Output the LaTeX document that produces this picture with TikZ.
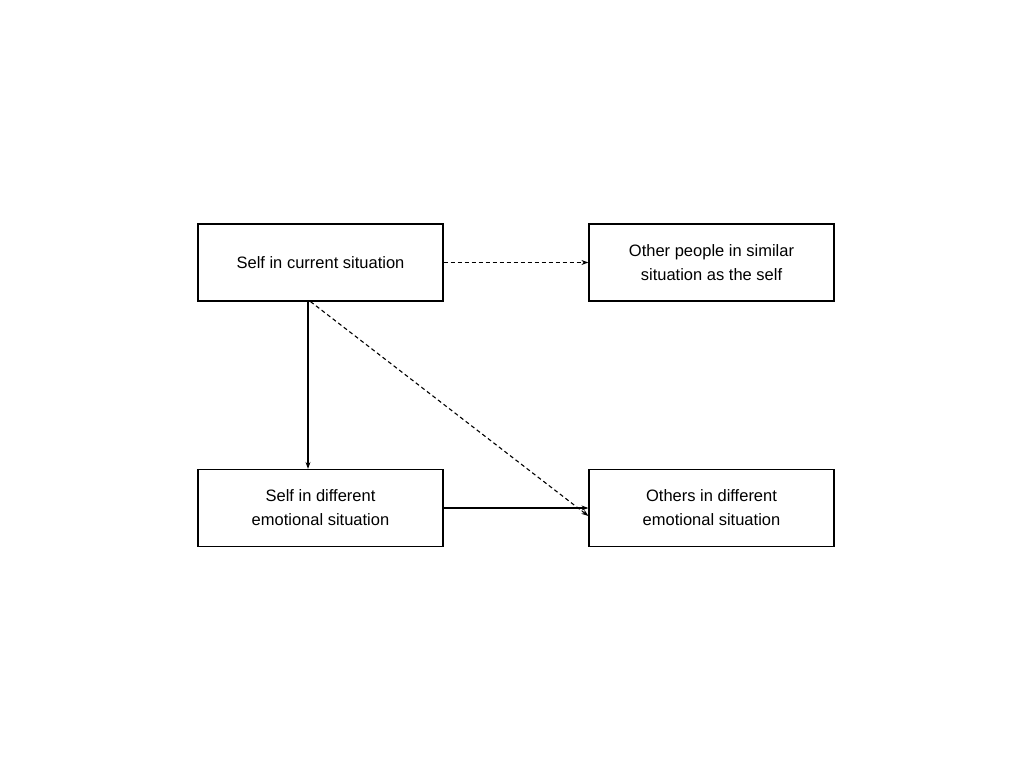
\documentclass[tikz,border=0pt]{standalone}
\usepackage{fontspec}
\setmainfont{Liberation Sans}
\usetikzlibrary{arrows.meta}
\begin{document}
\begin{tikzpicture}[x=1pt,y=-1pt,
  box/.style={draw,line width=1.2pt,minimum width=245pt,minimum height=77pt,align=center,font=\fontsize{16.5}{24}\selectfont,inner sep=0pt},
  arr/.style={-{Stealth[length=7pt,width=5pt]},line width=1.1pt},
  dsh/.style={arr,dash pattern=on 4pt off 3pt}]
\useasboundingbox (0,0) rectangle (1024,768);
\node[box] (a) at (320.5,262.5) {Self in current situation};
\node[box] (b) at (711.5,262.5) {Other people in similar\\situation as the self};
\node[box] (c) at (320.5,508) {Self in different\\emotional situation};
\node[box] (d) at (711.5,508) {Others in different\\emotional situation};
\draw[dsh] (a.east) -- (b.west);
\draw[arr] ([xshift=-12.5pt]a.south) -- ([xshift=-12.5pt]c.north);
\draw[dsh] ([xshift=-10pt]a.south) -- ([yshift=-8pt]d.west);
\draw[arr] (c.east) -- (d.west);
\end{tikzpicture}
\end{document}
